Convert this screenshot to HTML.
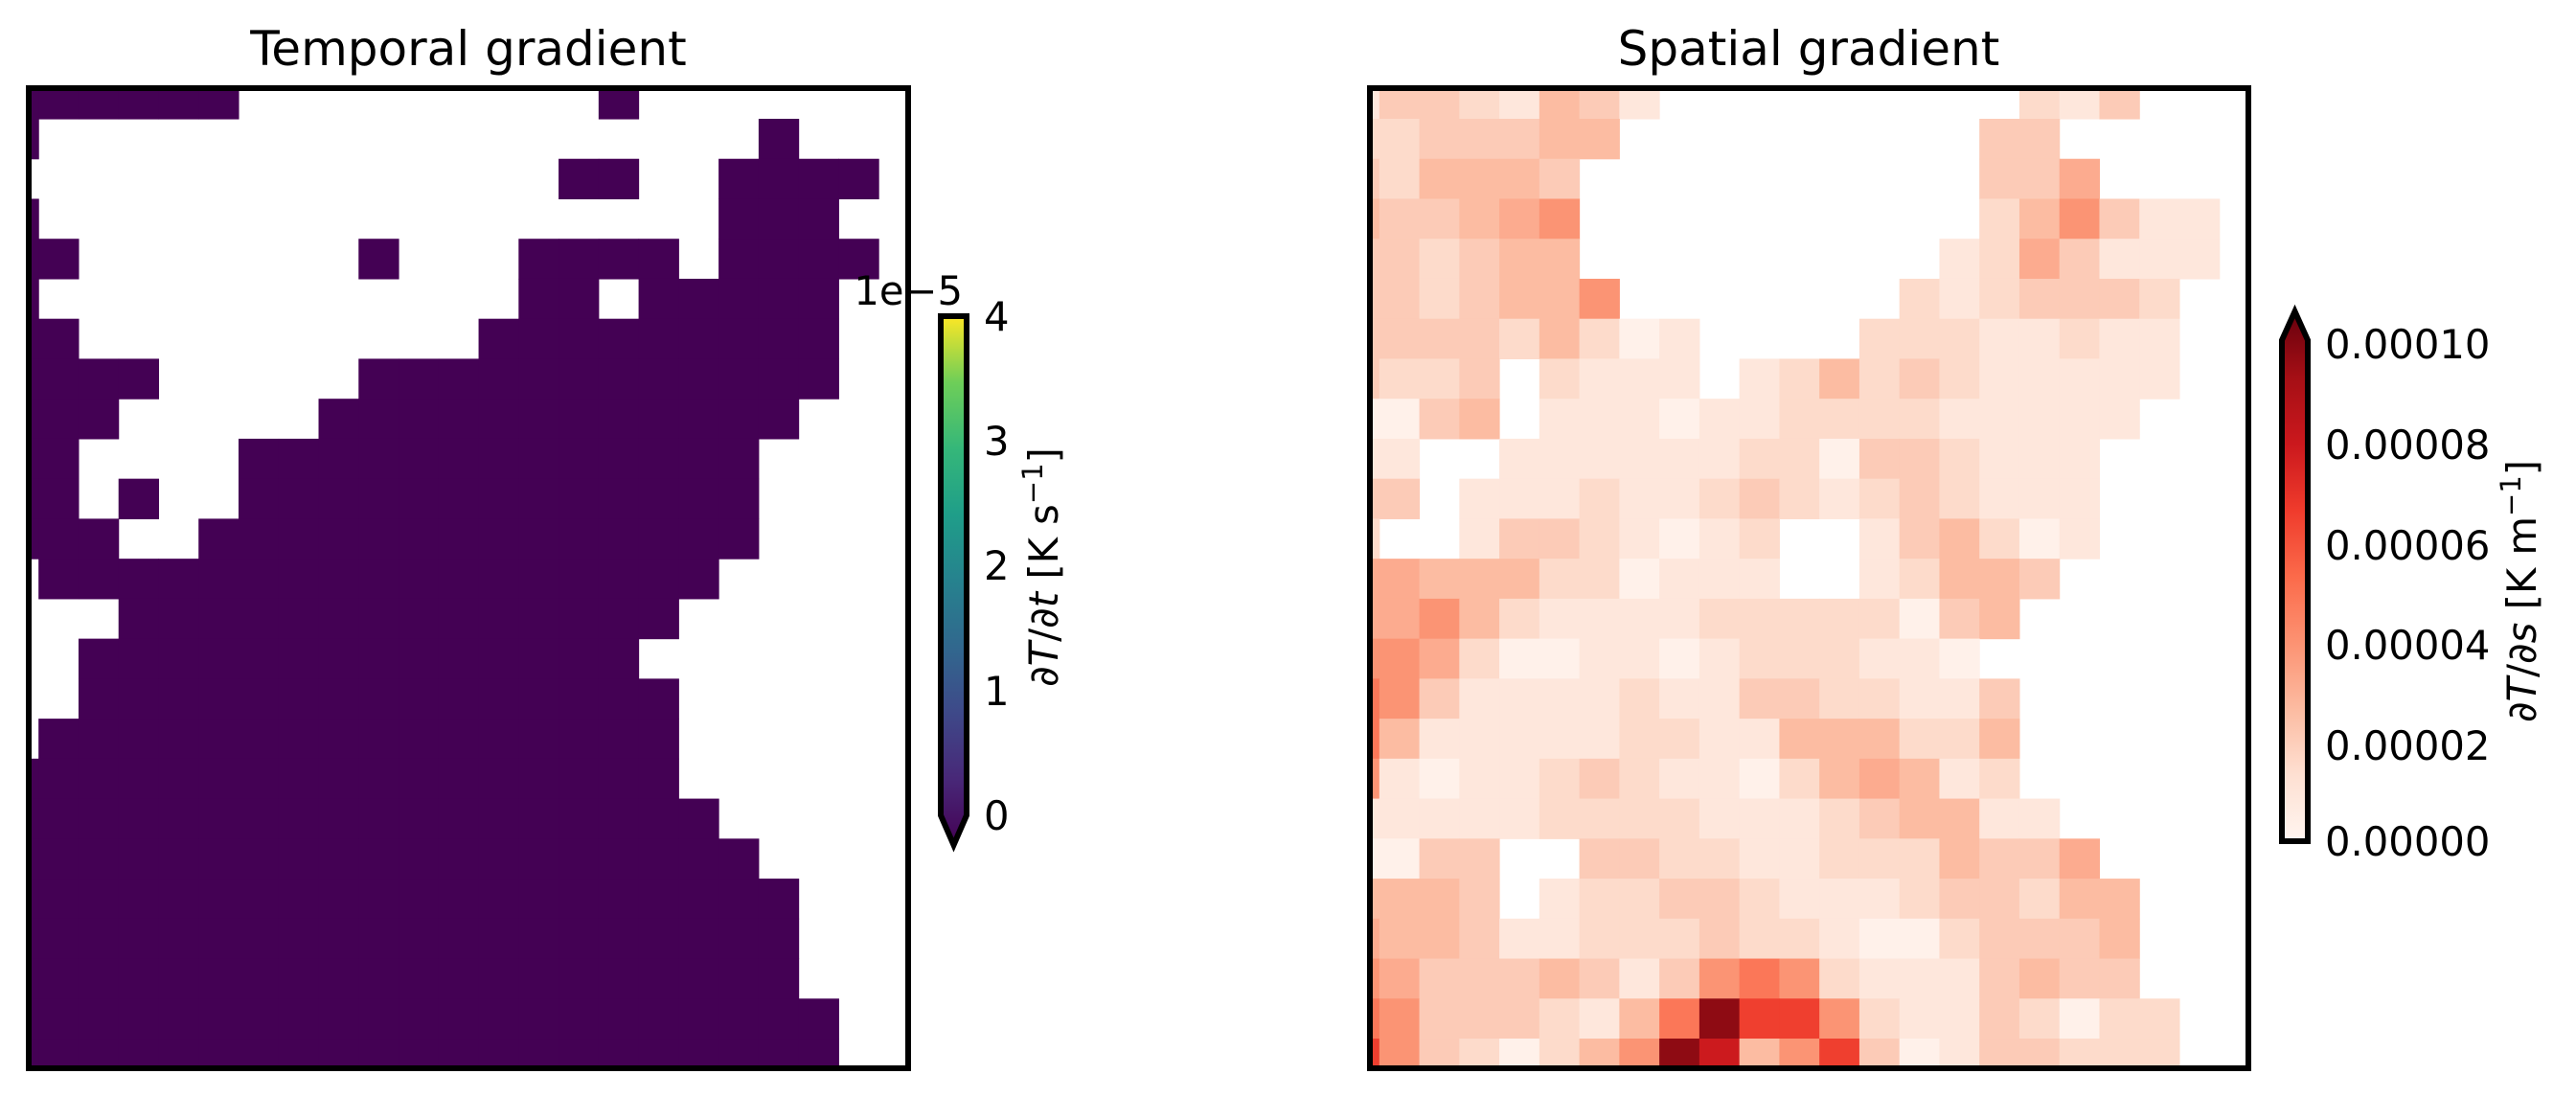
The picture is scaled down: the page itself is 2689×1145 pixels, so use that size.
<!DOCTYPE html>
<html><head><meta charset="utf-8"><style>
html,body{margin:0;padding:0;background:#fff;}
svg{display:block;font-family:"DejaVu Sans","Liberation Sans",sans-serif;}
</style></head><body>
<svg id="s" width="2689" height="1145" viewBox="0 0 2689 1145" xmlns="http://www.w3.org/2000/svg">
<defs>
<clipPath id="cl"><rect x="30" y="92" width="918" height="1023"/></clipPath>
<clipPath id="cr"><rect x="1430" y="92" width="917" height="1023"/></clipPath>
<linearGradient id="vir" x1="0" y1="1" x2="0" y2="0">
<stop offset="0" stop-color="#440154"/><stop offset="0.125" stop-color="#482878"/><stop offset="0.25" stop-color="#3e4989"/><stop offset="0.375" stop-color="#31688e"/><stop offset="0.5" stop-color="#26828e"/><stop offset="0.625" stop-color="#1f9e89"/><stop offset="0.75" stop-color="#35b779"/><stop offset="0.875" stop-color="#6ece58"/><stop offset="1" stop-color="#fde725"/>
</linearGradient>
<linearGradient id="reds" x1="0" y1="1" x2="0" y2="0">
<stop offset="0" stop-color="#fff5f0"/><stop offset="0.125" stop-color="#fee0d2"/><stop offset="0.25" stop-color="#fcbba1"/><stop offset="0.375" stop-color="#fc9272"/><stop offset="0.5" stop-color="#fb6a4a"/><stop offset="0.625" stop-color="#ef3b2c"/><stop offset="0.75" stop-color="#cb181d"/><stop offset="0.875" stop-color="#a50f15"/><stop offset="1" stop-color="#67000d"/>
</linearGradient>
</defs>
<g id="gl" clip-path="url(#cl)"></g>
<g id="gr" clip-path="url(#cr)"></g>
<rect x="30" y="92" width="918" height="1023" fill="none" stroke="#000" stroke-width="6"/>
<rect x="1430" y="92" width="917" height="1023" fill="none" stroke="#000" stroke-width="6"/>
<text x="489" y="68" font-size="50" text-anchor="middle">Temporal gradient</text>
<text x="1888" y="68" font-size="50" text-anchor="middle">Spatial gradient</text>
<!-- left colorbar -->
<path d="M982,330 L1009,330 L1009,851 L995.5,882 L982,851 Z" fill="url(#vir)" stroke="#000" stroke-width="6"/>
<g font-size="41.7">
<text x="1005" y="318" text-anchor="end">1e−5</text>
<text x="1027" y="345">4</text>
<text x="1027" y="475">3</text>
<text x="1027" y="605">2</text>
<text x="1027" y="736">1</text>
<text x="1027" y="866">0</text>
<text transform="translate(1104,592) rotate(-90)" text-anchor="middle">∂<tspan font-style="italic">T</tspan>/∂<tspan font-style="italic">t</tspan> [K s<tspan font-size="29" dy="-16">−1</tspan><tspan dy="16">]</tspan></text>
</g>
<!-- right colorbar -->
<path d="M2382,878 L2409,878 L2409,355 L2395.5,325 L2382,355 Z" fill="url(#reds)" stroke="#000" stroke-width="6"/>
<g font-size="41.7">
<text x="2427" y="374">0.00010</text>
<text x="2427" y="479">0.00008</text>
<text x="2427" y="584">0.00006</text>
<text x="2427" y="688">0.00004</text>
<text x="2427" y="793">0.00002</text>
<text x="2427" y="893">0.00000</text>
<text transform="translate(2647,617) rotate(-90)" text-anchor="middle">∂<tspan font-style="italic">T</tspan>/∂<tspan font-style="italic">s</tspan> [K m<tspan font-size="29" dy="-16">−1</tspan><tspan dy="16">]</tspan></text>
</g>
</svg>
<script>
var L=[
"######.........#.......",
"#..................#...",
"..............##..####.",
"#.................###..",
"##.......#...####.####.",
"#............##.#####..",
"##..........#########..",
"####.....############..",
"###.....############...",
"##....#############....",
"##.#..#############....",
"###..##############....",
".#################.....",
"...##############......",
"..##############.......",
"..###############......",
".################......",
"#################......",
"##################.....",
"###################....",
"####################...",
"####################...",
"####################...",
"#####################..",
"#####################.."];
var R=[
"13321431.........213...",
"2233344.........33.....",
"324443..........335....",
"433456..........246311.",
"332344.........1253111.",
"3323446.......2123332..",
"333324201....22211211..",
"3223.2111.12423211111..",
"0034.111011222211111...",
"11..111111220332111....",
"33.1112112321232111....",
"2..13321012..134201....",
"55444220111..12443.....",
"55642111122222034......",
"6652001101222110.......",
"76311112113322113......",
"74111112211444224......",
"61011232110245412......",
"111112222111234411.....",
"0033..3322112224335....",
"4443.122332111233244...",
"54431122232210023334...",
"65333431367621113433...",
"763332147A88621132022..",
"86320246A946830133222.."];
var C={"0":"#fff1ea","1":"#fee7dc","2":"#fddbcb","3":"#fccbb7","4":"#fcbca2","5":"#fcab8f","6":"#fb9474","7":"#fb7758","8":"#ef3f2f","9":"#cc1a1e","A":"#8e0b13"};
var NS="http://www.w3.org/2000/svg";
function draw(g,data,x0,col){
  var el=document.getElementById(g);
  for(var j=0;j<data.length;j++){for(var i=0;i<data[j].length;i++){
    var ch=data[j][i]; if(ch==='.')continue;
    var r=document.createElementNS(NS,"rect");
    var x=x0+41.76*(i-1), y=124+41.74*(j-1);
    r.setAttribute("x",x.toFixed(2));r.setAttribute("y",y.toFixed(2));
    r.setAttribute("width","42.3");r.setAttribute("height","42.3");
    r.setAttribute("fill",col?col(ch):"#440154");
    el.appendChild(r);
  }}
}
draw("gl",L,40.2,null);
draw("gr",R,1439.8,function(c){return C[c];});
</script>
</body></html>
